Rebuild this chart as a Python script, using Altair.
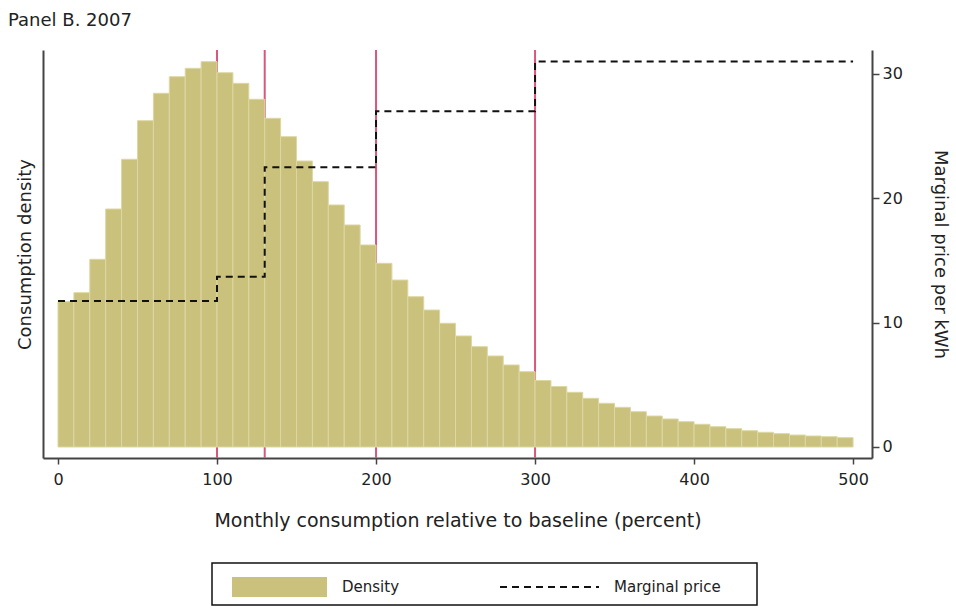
import altair as alt
import pandas as pd

# ---------------- data ----------------
bin_start = list(range(0, 500, 10))
bin_width = 10
density = [
    0.001919, 0.002038, 0.002479, 0.003143, 0.003800, 0.004309, 0.004671, 0.004890, 0.005001, 0.005089,
    0.004943, 0.004803, 0.004592, 0.004341, 0.004098, 0.003777, 0.003504, 0.003196, 0.002932, 0.002668,
    0.002426, 0.002205, 0.001985, 0.001809, 0.001634, 0.001466, 0.001325, 0.001202, 0.001083, 0.000994,
    0.000878, 0.000799, 0.000722, 0.000643, 0.000577, 0.000524, 0.000466, 0.000409, 0.000370, 0.000334,
    0.000300, 0.000268, 0.000242, 0.000215, 0.000194, 0.000176, 0.000158, 0.000145, 0.000136, 0.000123,
]
tier_kinks = [100, 130, 200, 300]
price_x = [0, 100, 130, 200, 300, 500]
price_y = [11.75, 13.7, 22.5, 27.0, 31.0, 31.0]
x_ticks = [0, 100, 200, 300, 400, 500]
price_ticks = [0, 10, 20, 30]

# ---------------- style ----------------
W, H = 829, 408
FONT = "DejaVu Sans"
TXT = "#222222"
AXC = "#444444"
BAR = "#c9c17c"
BAR_EDGE = "#ddd7a3"
RED = "#d9577b"

bars_df = pd.DataFrame({
    "x": bin_start,
    "x_end": [s + bin_width for s in bin_start],
    "density": density,
})
kinks_df = pd.DataFrame({"x": tier_kinks})
price_df = pd.DataFrame({"x": price_x, "price": price_y})
one = pd.DataFrame({"k": [0]})

x_enc = alt.X(
    "x:Q",
    scale=alt.Scale(domain=[-9.43, 511.9], nice=False, zero=False),
    axis=alt.Axis(
        values=x_ticks, format="d", grid=False,
        title="Monthly consumption relative to baseline (percent)",
        domainColor=AXC, domainWidth=2, tickColor=AXC, tickWidth=1.5, tickSize=6,
        labelFont=FONT, labelFontSize=16, labelColor=TXT, labelPadding=7,
        titleFont=FONT, titleFontSize=19, titleFontWeight="normal", titleColor=TXT,
        titlePadding=24,
    ),
)

rules = alt.Chart(kinks_df).mark_rule(color=RED, strokeWidth=2).encode(
    x=x_enc, y=alt.value(0), y2=alt.value(H)
)

bars = alt.Chart(bars_df).mark_bar(
    color=BAR, stroke=BAR_EDGE, strokeWidth=1
).encode(
    x=x_enc,
    x2="x_end:Q",
    y=alt.Y(
        "density:Q",
        scale=alt.Scale(domain=[-0.0001453, 0.005243], nice=False, zero=False),
        axis=alt.Axis(
            orient="left", ticks=False, labels=False, grid=False,
            title="Consumption density",
            domainColor=AXC, domainWidth=2,
            titleFont=FONT, titleFontSize=18, titleFontWeight="normal", titleColor=TXT,
            titlePadding=9,
        ),
    ),
    y2=alt.datum(0),
)

price_line = alt.Chart(price_df).mark_line(
    interpolate="step-after", color="#111111", strokeWidth=2, strokeDash=[7, 5]
).encode(
    x=x_enc,
    y=alt.Y(
        "price:Q",
        scale=alt.Scale(domain=[-0.885, 31.93], nice=False, zero=False),
        axis=alt.Axis(
            orient="right", values=price_ticks, grid=False,
            title="Marginal price per kWh",
            domainColor=AXC, domainWidth=2, tickColor=AXC, tickWidth=1.5, tickSize=7,
            labelFont=FONT, labelFontSize=16, labelColor=TXT, labelPadding=3,
            titleFont=FONT, titleFontSize=18, titleFontWeight="normal", titleColor=TXT,
            titlePadding=28,
        ),
    ),
)

# ---------------- title & legend ----------------
title = alt.Chart(one).mark_text(
    text="Panel B. 2007", align="left", baseline="alphabetic",
    font=FONT, fontSize=18, color=TXT
).encode(x=alt.value(-35), y=alt.value(-24))

leg_box = alt.Chart(one).mark_rect(
    fill="white", stroke="#111111", strokeWidth=1.5
).encode(x=alt.value(169), x2=alt.value(714), y=alt.value(513), y2=alt.value(555))

leg_bar = alt.Chart(one).mark_rect(color=BAR).encode(
    x=alt.value(189), x2=alt.value(284), y=alt.value(527), y2=alt.value(547)
)
leg_bar_txt = alt.Chart(one).mark_text(
    text="Density", align="left", baseline="middle", font=FONT, fontSize=15, color=TXT
).encode(x=alt.value(299), y=alt.value(537))

leg_line = alt.Chart(one).mark_rule(
    color="#111111", strokeWidth=2, strokeDash=[7, 5]
).encode(x=alt.value(457), x2=alt.value(556), y=alt.value(537))
leg_line_txt = alt.Chart(one).mark_text(
    text="Marginal price", align="left", baseline="middle", font=FONT, fontSize=15, color=TXT
).encode(x=alt.value(571), y=alt.value(537))

chart = alt.layer(
    rules, bars, price_line, title, leg_box, leg_bar, leg_bar_txt, leg_line, leg_line_txt
).resolve_scale(
    y="independent"
).properties(
    width=W, height=H,
    autosize=alt.AutoSizeParams(type="none"),
    padding={"left": 43, "top": 50, "right": 84, "bottom": 154},
    background="white",
).configure_view(strokeWidth=0)

chart.save("out.html", embed_options={"renderer": "svg", "actions": False})
